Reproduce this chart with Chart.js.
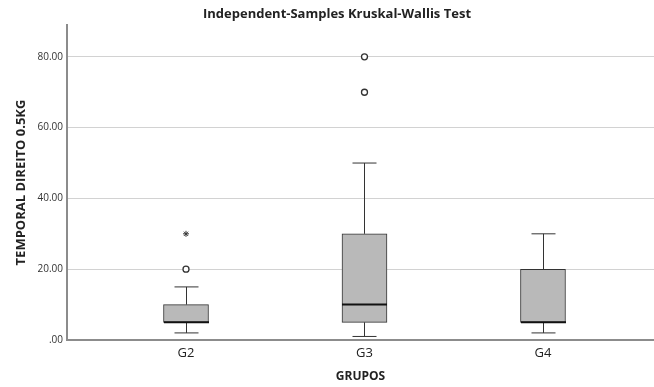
<!DOCTYPE html>
<html>
<head>
<meta charset="utf-8">
<script src="https://cdn.jsdelivr.net/npm/chart.js@4"></script>
<style>
  html, body { margin: 0; padding: 0; background: #fff; }
  canvas { display: block; }
</style>
</head>
<body>
<canvas id="boxChart" width="654" height="387"></canvas>
<script>
var groups = ["G2", "G3", "G4"];
var groupPos = [1, 2, 3];
var mins = [2, 1, 2];
var q1s = [5, 5, 5];
var medians = [5, 10, 5];
var q3s = [10, 30, 20];
var maxs = [15, 50, 30];
// outliers (circle) and extremes (star) as [group position, value]
var outliers = [[1, 20], [2, 70], [2, 80]];
var extremes = [[1, 30]];
var yTicks = [0, 20, 40, 60, 80];

var lineColor = "#333333";

// whiskers, caps and median lines drawn from the scales
var boxplotLines = {
    id: "boxplotLines",
    afterDatasetsDraw: function (chart) {
        var ctx = chart.ctx;
        var xs = chart.scales.x;
        var ys = chart.scales.y;
        ctx.save();
        groupPos.forEach(function (g, i) {
            var cx = Math.round(xs.getPixelForValue(g)) + 0.5;
            var capHalf = 12;
            var boxHalf = 22.5;
            ctx.strokeStyle = lineColor;
            ctx.lineWidth = 1;
            ctx.beginPath();
            ctx.moveTo(cx, ys.getPixelForValue(q3s[i]));
            ctx.lineTo(cx, ys.getPixelForValue(maxs[i]));
            ctx.moveTo(cx, ys.getPixelForValue(q1s[i]));
            ctx.lineTo(cx, ys.getPixelForValue(mins[i]));
            ctx.moveTo(cx - capHalf, ys.getPixelForValue(maxs[i]));
            ctx.lineTo(cx + capHalf, ys.getPixelForValue(maxs[i]));
            ctx.moveTo(cx - capHalf, ys.getPixelForValue(mins[i]));
            ctx.lineTo(cx + capHalf, ys.getPixelForValue(mins[i]));
            ctx.stroke();
            ctx.strokeStyle = "#111111";
            ctx.lineWidth = 2;
            ctx.beginPath();
            ctx.moveTo(cx - boxHalf, ys.getPixelForValue(medians[i]));
            ctx.lineTo(cx + boxHalf, ys.getPixelForValue(medians[i]));
            ctx.stroke();
        });
        ctx.restore();
    }
};

var chart = new Chart(document.getElementById("boxChart"), {
    type: "bar",
    data: {
        datasets: [
            {
                type: "bar",
                label: "box",
                data: groupPos.map((g, i) => ({ x: g, y: [q1s[i], q3s[i]] })),
                backgroundColor: "#b9b9b9",
                borderColor: lineColor,
                borderWidth: 1,
                borderSkipped: false,
                barThickness: 45,
                order: 2
            },
            {
                type: "scatter",
                label: "outliers",
                data: outliers.map(p => ({ x: p[0], y: p[1] })),
                pointStyle: "circle",
                pointRadius: 3,
                pointBackgroundColor: "#ffffff",
                pointBorderColor: lineColor,
                pointBorderWidth: 1.3,
                order: 1
            },
            {
                type: "scatter",
                label: "extremes",
                data: extremes.map(p => ({ x: p[0], y: p[1] })),
                pointStyle: "star",
                pointRadius: 3,
                pointBorderColor: lineColor,
                pointBorderWidth: 1,
                order: 1
            }
        ]
    },
    options: {
        responsive: false,
        animation: false,
        layout: { autoPadding: false, padding: { left: 10, right: -10, top: 0, bottom: 0 } },
        scales: {
            x: {
                type: "linear",
                min: 0.3333,
                max: 3.622,
                offset: false,
                afterFit: function (s) { s.height = 47; },
                afterBuildTicks: function (s) { s.ticks = groupPos.map(v => ({ value: v })); },
                grid: { display: false, drawTicks: false },
                border: { display: true, color: "#8c8c8c", width: 2 },
                ticks: {
                    padding: 5,
                    color: "#222",
                    font: { family: "Open Sans", size: 13 },
                    callback: function (v) { return groups[groupPos.indexOf(v)]; }
                },
                title: {
                    display: true,
                    text: "GRUPOS",
                    color: "#222",
                    font: { family: "Open Sans", size: 12, weight: "bold" },
                    padding: { top: 2, bottom: 3 }
                }
            },
            y: {
                min: 0,
                max: 89,
                afterFit: function (s) { s.width = 57; },
                afterBuildTicks: function (s) { s.ticks = yTicks.map(v => ({ value: v })); },
                grid: { color: "#d2d2d2", lineWidth: 1, drawTicks: false },
                border: { display: true, color: "#8c8c8c", width: 2 },
                ticks: {
                    padding: 4,
                    color: "#333",
                    font: { family: "Open Sans", size: 10 },
                    callback: function (v) { return v === 0 ? ".00" : v.toFixed(2); }
                },
                title: {
                    display: true,
                    text: "TEMPORAL DIREITO 0.5KG",
                    color: "#222",
                    font: { family: "Open Sans", size: 13, weight: "bold" },
                    padding: { top: 3, bottom: 0 }
                }
            }
        },
        plugins: {
            legend: { display: false },
            tooltip: { enabled: false },
            title: {
                display: true,
                text: "Independent-Samples Kruskal-Wallis Test",
                color: "#222",
                font: { family: "Open Sans", size: 13, weight: "bold" },
                padding: { top: 6, bottom: 3.4 }
            }
        }
    },
    plugins: [boxplotLines]
});
</script>
</body>
</html>
